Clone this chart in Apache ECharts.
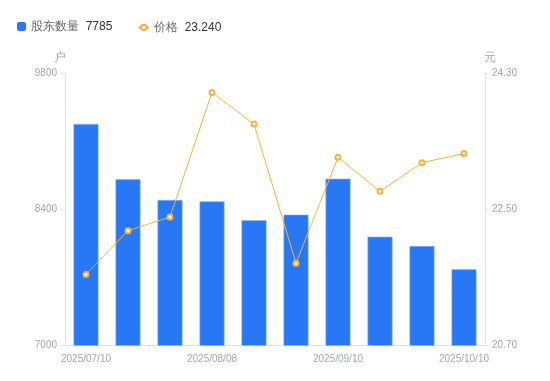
<!DOCTYPE html>
<html><head><meta charset="utf-8">
<script src="https://cdn.jsdelivr.net/npm/echarts@6/dist/echarts.min.js"></script>
<style>html,body{margin:0;padding:0;background:#fff}#c{width:550px;height:381px}</style>
</head><body><div id="c"></div>
<script>
var categories = ['2025/07/10','2025/07/20','2025/07/31','2025/08/08','2025/08/20','2025/08/29','2025/09/10','2025/09/19','2025/09/30','2025/10/10'];
var holders = [9280, 8711, 8498, 8484, 8289, 8347, 8717, 8120, 8024, 7785];
var prices = [21.64, 22.22, 22.40, 24.05, 23.63, 21.79, 23.19, 22.74, 23.12, 23.24];
var leftTicks = {min: 7000, max: 9800, interval: 1400};
var rightTicks = {min: 20.7, max: 24.3, interval: 1.8};

var chart = echarts.init(document.getElementById('c'));
var labelColor = '#A3A6B4';
function legendFmt(name) {
  var v = name === '股东数量' ? String(holders[holders.length - 1]) : prices[prices.length - 1].toFixed(3);
  return '{n|' + name + '}  {v|' + v + '}';
}
var legendText = {rich: {n: {color: '#666', fontSize: 12}, v: {color: '#333', fontSize: 12}}};
chart.setOption({
  animation: false,
  textStyle: {fontFamily: 'sans-serif'},
  legend: [{
    left: 17, top: 20.5, padding: 0, itemWidth: 9, itemHeight: 9, itemGap: 24,
    data: [{name: '股东数量', icon: 'roundRect', itemStyle: {borderWidth: 0}}],
    formatter: legendFmt, textStyle: legendText
  }, {
    left: 137.5, top: 21.5, padding: 0, itemWidth: 10.5, itemHeight: 7, itemGap: 24,
    data: [{name: '价格'}],
    formatter: legendFmt, textStyle: legendText
  }],
  grid: {left: 65, right: 65, top: 73.5, bottom: 35.5},
  xAxis: {
    type: 'category', data: categories,
    axisLine: {lineStyle: {color: '#E3E3E3'}},
    axisTick: {show: false},
    axisLabel: {color: labelColor, fontSize: 10, interval: 2, margin: 9}
  },
  yAxis: [{
    type: 'value', name: '户', min: leftTicks.min, max: leftTicks.max, interval: leftTicks.interval,
    nameTextStyle: {color: labelColor, fontSize: 12, padding: [0, 10, 0, 0]},
    nameGap: 10,
    axisLine: {show: true, lineStyle: {color: '#E3E3E3'}},
    axisTick: {show: true, length: 4, lineStyle: {color: '#E3E3E3'}},
    splitLine: {show: false},
    axisLabel: {color: labelColor, fontSize: 10, margin: 8, formatter: function (v) { return String(v); }}
  }, {
    type: 'value', name: '元', min: rightTicks.min, max: rightTicks.max, interval: rightTicks.interval,
    nameTextStyle: {color: labelColor, fontSize: 12, padding: [0, 0, 0, 10]},
    nameGap: 10,
    axisLine: {show: true, lineStyle: {color: '#E3E3E3'}},
    axisTick: {show: true, length: 4, lineStyle: {color: '#E3E3E3'}},
    splitLine: {show: false},
    axisLabel: {color: labelColor, fontSize: 10, margin: 7, formatter: function (v) { return v.toFixed(2); }}
  }],
  series: [{
    name: '股东数量', type: 'bar', data: holders, barWidth: 25, yAxisIndex: 0,
    itemStyle: {color: '#2878F5', borderColor: '#8DB6F9', borderWidth: 0.6}
  }, {
    name: '价格', type: 'line', data: prices, yAxisIndex: 1,
    symbol: 'emptyCircle', symbolSize: 5,
    lineStyle: {color: '#F9B13D', width: 1},
    itemStyle: {color: '#F9B13D', borderWidth: 1.5}
  }]
});
</script></body></html>
